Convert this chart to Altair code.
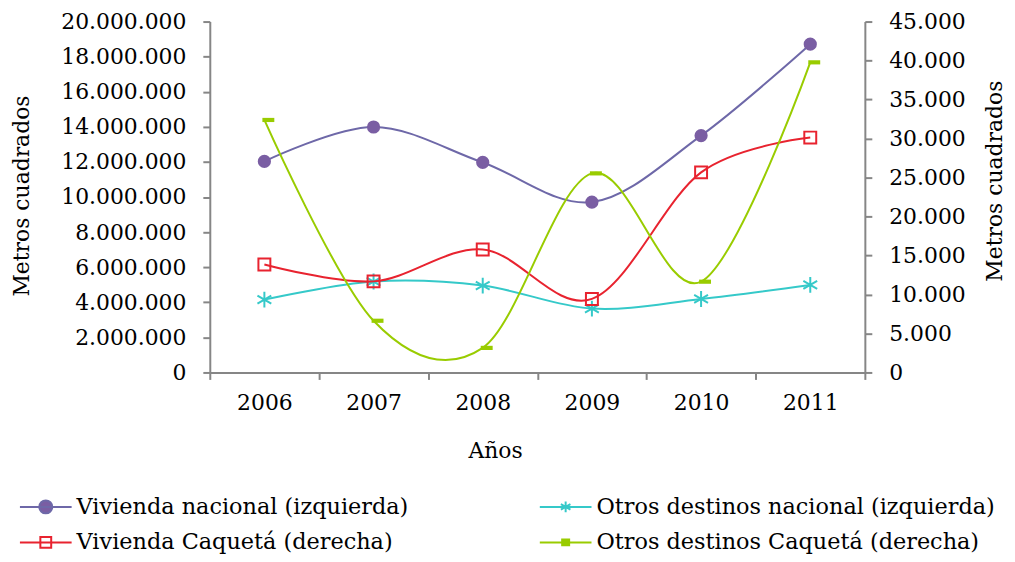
import altair as alt
import pandas as pd

years = ["2006", "2007", "2008", "2009", "2010", "2011"]
vivienda_nacional = [12030000, 13990000, 11970000, 9710000, 13500000, 18710000]
otros_nacional = [4150000, 5180000, 4950000, 3640000, 4190000, 4990000]
vivienda_caqueta = [13850, 11680, 15770, 9430, 25660, 30120]
otros_caqueta = [32380, 6630, 3150, 25530, 11640, 39770]

series_names = [
    "Vivienda nacional (izquierda)",
    "Otros destinos nacional (izquierda)",
    "Vivienda Caquetá (derecha)",
    "Otros destinos Caquetá (derecha)",
]
left_ticks = [0, 2000000, 4000000, 6000000, 8000000, 10000000, 12000000,
              14000000, 16000000, 18000000, 20000000]
right_ticks = [0, 5000, 10000, 15000, 20000, 25000, 30000, 35000, 40000, 45000]

PURPLE_LINE = "#6E68A8"
PURPLE_MARK = "#7A5EA3"
RED = "#E8232F"
CYAN = "#35C9C9"
GREEN = "#99CC00"
AXIS_GRAY = "#868686"
FONT = "DejaVu Serif"

def frame(vals, name):
    return pd.DataFrame({"year": years, "value": vals, "serie": name})

df_vn = frame(vivienda_nacional, series_names[0])
df_on = frame(otros_nacional, series_names[1])
df_vc = frame(vivienda_caqueta, series_names[2])
df_oc = frame(otros_caqueta, series_names[3])

label_expr = "replace(replace(format(datum.value, ','), ',', '.'), ',', '.')"

x_enc = alt.X(
    "year:O",
    scale=alt.Scale(type="band", paddingInner=0, paddingOuter=0),
    axis=alt.Axis(
        title="Años", tickBand="extent", labelAngle=0, tickSize=7,
        labelPadding=23, labelBaseline="middle", labelFontSize=22,
        titleX=287, titleY=79, titleBaseline="middle", titleFontSize=22,
        domainColor=AXIS_GRAY, tickColor=AXIS_GRAY, domainWidth=2, tickWidth=2,
        grid=False,
    ),
)

y_left = alt.Y(
    "value:Q",
    scale=alt.Scale(domain=[0, 20000000], nice=False, zero=True),
    axis=alt.Axis(
        title="Metros cuadrados", orient="left", values=left_ticks,
        labelExpr=label_expr, tickSize=7, labelPadding=17, labelFontSize=22,
        titleX=-182, titleY=175, titleAngle=270, titleBaseline="alphabetic",
        titleFontSize=22, domainColor=AXIS_GRAY, tickColor=AXIS_GRAY,
        domainWidth=2, tickWidth=2, grid=False,
    ),
)

y_right = alt.Y(
    "value:Q",
    scale=alt.Scale(domain=[0, 45000], nice=False, zero=True),
    axis=alt.Axis(
        title="Metros cuadrados", orient="right", values=right_ticks,
        labelExpr=label_expr, tickSize=7, labelPadding=17, labelFontSize=22,
        titleX=137, titleY=160, titleAngle=270, titleBaseline="alphabetic",
        titleFontSize=22, domainColor=AXIS_GRAY, tickColor=AXIS_GRAY,
        domainWidth=2, tickWidth=2, grid=False,
    ),
)

ASTERISK = "M0,-1L0,1M-0.87,-0.5L0.87,0.5M-0.87,0.5L0.87,-0.5"
DASH = "M-1,-0.35L1,-0.35L1,0.35L-1,0.35Z"


def line(df, color, y):
    return alt.Chart(df).mark_line(
        interpolate="cardinal", color=color, strokeWidth=2
    ).encode(x=x_enc, y=y)


lv_n = line(df_vn, PURPLE_LINE, y_left)
pv_n = alt.Chart(df_vn).mark_point(
    shape="circle", filled=True, size=177, color=PURPLE_MARK, opacity=1
).encode(x=x_enc, y=y_left)

lo_n = line(df_on, CYAN, y_left)
po_n = alt.Chart(df_on).mark_point(
    shape=ASTERISK, filled=False, size=256, color=CYAN, strokeWidth=2, opacity=1
).encode(x=x_enc, y=y_left)

# legend-only layer (draws nothing; its scales give the legend)
# order chosen so the column-wise legend reads row by row as in the reference
legend_order = [series_names[0], series_names[2], series_names[1], series_names[3]]
leg_shapes = [
    "M-2,0L2,0M-0.5,0A0.5,0.5 0 1,0 0.5,0A0.5,0.5 0 1,0 -0.5,0Z",
    "M-2,0L2,0M-0.42,-0.42L0.42,-0.42L0.42,0.42L-0.42,0.42Z",
    "M-2,0L2,0M0,-0.42L0,0.42M-0.37,-0.21L0.37,0.21M-0.37,0.21L0.37,-0.21",
    "M-2,0L2,0M-0.27,-0.22L0.27,-0.22L0.27,0.22L-0.27,0.22Z",
]
leg_strokes = [PURPLE_LINE, RED, CYAN, GREEN]
leg_fills = [PURPLE_MARK, "transparent", "transparent", GREEN]

legend_def = alt.Legend(
    title=None, orient="none", legendX=-179, legendY=474, columns=2,
    columnPadding=128, rowPadding=10, symbolSize=676, symbolStrokeWidth=2,
    labelOffset=17, labelFont=FONT, labelFontSize=22.5, labelColor="black",
    labelLimit=600, padding=0, symbolOpacity=1,
)
df_leg = pd.DataFrame({"year": years[:4], "value": [0, 0, 0, 0], "serie": legend_order})
leg_layer = alt.Chart(df_leg).mark_point(opacity=1, filled=False).encode(
    x=x_enc, y=y_left,
    shape=alt.Shape("serie:N", scale=alt.Scale(domain=legend_order, range=leg_shapes), legend=legend_def),
    stroke=alt.Stroke("serie:N", scale=alt.Scale(domain=legend_order, range=leg_strokes), legend=legend_def),
    fill=alt.Fill("serie:N", scale=alt.Scale(domain=legend_order, range=leg_fills), legend=legend_def),
).transform_filter("false")

lv_c = line(df_vc, RED, y_right)
pv_c = alt.Chart(df_vc).mark_point(
    shape="square", filled=False, size=144, color=RED, strokeWidth=2, opacity=1
).encode(x=x_enc, y=y_right)

lo_c = line(df_oc, GREEN, y_right)
po_c = alt.Chart(df_oc).mark_point(
    shape=DASH, filled=True, size=144, color=GREEN, opacity=1, xOffset=4
).encode(x=x_enc, y=y_right)

left = alt.layer(lv_n, pv_n, lo_n, po_n, leg_layer)
right = alt.layer(lv_c, pv_c, lo_c, po_c)

chart = alt.layer(left, right).resolve_scale(y="independent").properties(
    width=659, height=353,
    autosize=alt.AutoSizeParams(type="none"),
    padding={"left": 203, "top": 12, "right": 143, "bottom": 181},
).configure_axis(
    labelFont=FONT, titleFont=FONT, labelColor="black", titleColor="black",
    titleFontWeight="normal",
).configure_view(stroke=None)

chart.save("out.html", embed_options={"renderer": "svg", "actions": False})
